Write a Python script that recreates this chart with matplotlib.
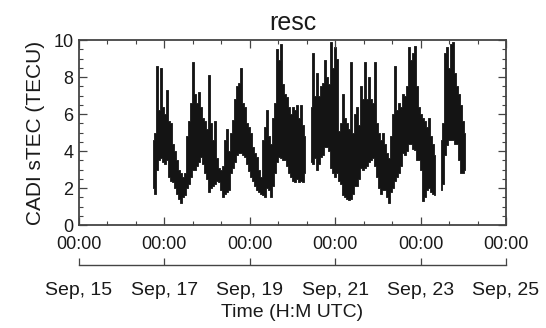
import numpy as np
import matplotlib
matplotlib.use("Agg")
import matplotlib.pyplot as plt
from matplotlib.ticker import MultipleLocator, FixedLocator
from datetime import datetime, timedelta

# ---------------------------------------------------------------------------
# Data: CADI sTEC envelope (min / max per ~1.1 h bin)
# ---------------------------------------------------------------------------
T0 = datetime(2005, 9, 15)          # x axis origin
START_H = 41.6                      # first sample, hours after T0
STEP_H = 1.124                      # bin width, hours

STEC_LO = [
    2.0, 1.7, 3.0, 3.5, 3.6, 3.4, 3.3, 3.5, 2.6, 2.4,
    2.3, 2.0, 1.7, 1.4, 1.2, 1.5, 1.6, 2.0, 2.2, 2.6,
    3.0, 3.0, 3.2, 3.4, 3.7, 3.3, 2.8, 2.5, 1.8, 2.0,
    2.1, 2.2, 2.4, 2.3, 1.9, 1.5, 1.7, 1.8, 1.9, 2.8,
    3.1, 3.4, 3.8, 3.9, 3.9, 3.8, 3.7, 3.3, 2.9, 2.6,
    2.4, 2.1, 1.9, 1.8, 1.7, 1.6, 1.5, 2.0, 1.9, 1.5,
    2.1, 2.8, 3.4, 3.7, 3.6, 3.5, 3.5, 3.2, 2.8, 2.6,
    2.4, 2.3, 2.5, 2.3, 2.4, 2.3, 2.8, np.nan, np.nan, 3.4,
    3.3, 3.6, 3.0, 3.3, 3.7, 3.8, 4.2, 4.2, 4.0, 3.1,
    2.8, 2.6, 2.8, 2.4, 2.2, 1.6, 1.5, 1.4, 1.35, 1.4,
    1.7, 2.1, 2.1, 2.5, 3.1, 3.0, 3.1, 3.2, 3.4, 3.5,
    3.6, 3.2, 2.6, 2.0, 1.7, 1.9, 1.9, 1.5, 1.2, 1.8,
    2.0, 2.4, 2.6, 2.8, 3.2, 3.9, 3.8, 4.0, 4.4, 4.4,
    4.1, 4.05, 3.5, 3.5, 3.0, 1.3, 1.5, 1.9, 2.0, 1.8,
    1.7, 1.6, np.nan, np.nan, 1.9, 2.2, 3.8, 4.3, 4.6, 4.6,
    4.6, 4.4, 4.4, 3.5, 2.8, 2.8, 3.0,
]
STEC_HI = [
    4.6, 5.0, 8.6, 6.2, 8.5, 6.4, 6.0, 7.3, 5.6, 5.5,
    4.4, 4.0, 3.5, 3.0, 2.8, 2.6, 2.8, 4.8, 5.6, 6.6,
    8.8, 7.1, 6.6, 7.2, 6.4, 5.8, 5.6, 5.2, 8.1, 5.5,
    4.6, 5.6, 3.6, 3.1, 3.0, 3.2, 4.6, 5.2, 4.0, 5.0,
    5.7, 6.8, 7.5, 7.7, 8.5, 6.6, 6.4, 5.5, 5.3, 5.0,
    4.2, 3.9, 3.7, 3.0, 2.6, 4.6, 5.3, 6.2, 4.8, 4.4,
    5.8, 6.6, 9.5, 8.9, 9.8, 7.6, 7.1, 6.9, 6.4, 6.0,
    6.4, 6.2, 6.5, 5.8, 6.5, 5.4, 4.8, np.nan, np.nan, 6.4,
    9.3, 7.0, 8.2, 7.0, 7.5, 7.7, 8.9, 8.0, 7.6, 9.9,
    8.5, 9.6, 9.0, 5.1, 5.5, 7.1, 5.8, 5.5, 5.2, 8.8,
    5.0, 6.0, 6.4, 5.4, 7.5, 6.8, 8.8, 6.8, 8.0, 6.8,
    6.6, 8.8, 5.5, 5.0, 4.6, 5.0, 4.4, 3.9, 3.6, 4.8,
    6.0, 8.6, 6.2, 6.6, 6.4, 7.1, 7.0, 7.5, 9.6, 8.9,
    9.3, 9.7, 7.5, 6.4, 6.0, 5.8, 5.6, 5.3, 5.8, 4.8,
    4.4, 3.8, np.nan, np.nan, 4.6, 5.5, 9.3, 9.6, 8.5, 9.8,
    9.9, 8.2, 7.5, 7.1, 6.5, 5.6, 5.0,
]

X_TICKS_H = [0, 48, 96, 144, 192, 240]
Y_TICKS = [0, 2, 4, 6, 8, 10]

# ---------------------------------------------------------------------------
plt.rcParams['font.family'] = ['Liberation Sans', 'DejaVu Sans']
FRAME = '#444444'
TEXT = '#1a1a1a'
TRACE = '#141414'

lo = np.array(STEC_LO)
hi = np.array(STEC_HI)
t = START_H + STEP_H * np.arange(len(lo))

fig = plt.figure(figsize=(5.46, 3.28), dpi=100)
ax = fig.add_axes([79 / 546, 1 - 225 / 328, 427 / 546, 185 / 328])

# dense raw trace drawn as its min/max band per bin
ax.fill_between(t, lo, hi, step='mid', facecolor=TRACE, edgecolor=TRACE, lw=0.6)

ax.set_xlim(0, 240)
ax.set_ylim(0, 10)
ax.set_title('resc', fontsize=18, color=TEXT, pad=7)

ax.xaxis.set_major_locator(FixedLocator(X_TICKS_H))
ax.xaxis.set_minor_locator(MultipleLocator(16))
ax.set_xticklabels(['00:00'] * len(X_TICKS_H))
ax.yaxis.set_major_locator(FixedLocator(Y_TICKS))
ax.yaxis.set_minor_locator(MultipleLocator(0.5))
ax.set_ylabel('CADI sTEC (TECU)', fontsize=15, color=TEXT, labelpad=6)

ax.tick_params(which='both', direction='in', top=True, right=True,
               color=FRAME, labelcolor=TEXT, labelsize=13)
ax.tick_params(which='major', length=6, width=0.9)
ax.tick_params(which='minor', length=3, width=0.8)
ax.tick_params(axis='x', pad=8)
ax.tick_params(axis='y', pad=4)
for s in ax.spines.values():
    s.set_color(FRAME)
    s.set_linewidth(1.3)

# second date axis under the time labels
sec = ax.secondary_xaxis(-40 / 185)
sec.xaxis.set_major_locator(FixedLocator(X_TICKS_H))
sec.set_xticklabels([(T0 + timedelta(hours=h)).strftime('%b, %d') for h in X_TICKS_H])
sec.tick_params(direction='in', length=5, width=0.9, color=FRAME,
                labelcolor=TEXT, labelsize=14, pad=12)
sec.spines['bottom'].set_color(FRAME)
sec.spines['bottom'].set_linewidth(1.0)
sec.set_xlabel('Time (H:M UTC)', fontsize=14, color=TEXT, labelpad=4)

fig.savefig('out.png', dpi=100)
